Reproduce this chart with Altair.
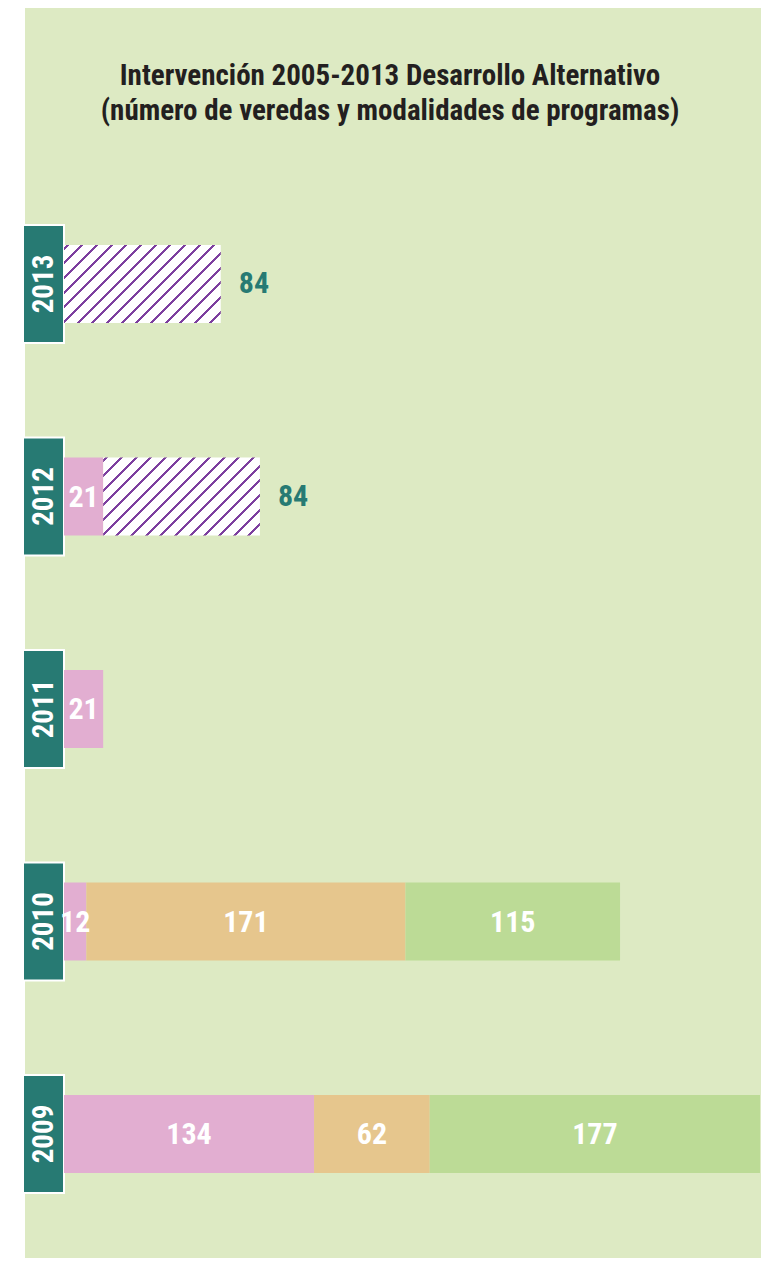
import altair as alt
import pandas as pd

# ---------------- data ----------------
years = ["2013", "2012", "2011", "2010", "2009"]
programs = ["Programa 1", "Programa 2", "Programa 3", "Programa 4"]
prog_1 = [0, 21, 21, 12, 134]     # pink
prog_2 = [0, 0, 0, 171, 62]       # tan
prog_3 = [0, 0, 0, 115, 177]      # green
prog_4 = [84, 84, 0, 0, 0]        # hatched
title_lines = ["Intervención 2005-2013 Desarrollo Alternativo",
               "(número de veredas y modalidades de programas)"]

# ---------------- styling ----------------
BG = "#ddeac3"
TEAL = "#277a73"
PURPLE = "#7d3f9f"
colors = ["#e2aed1", "#e6c68d", "#bcdb96"]
FONT = "Liberation Sans Narrow, Arial Narrow, Roboto Condensed, Roboto, sans-serif"

rows = []
for k, (name, vals) in enumerate(zip(programs, [prog_1, prog_2, prog_3, prog_4])):
    for y, v in zip(years, vals):
        if v > 0:
            rows.append({"year": y, "prog": name, "value": v, "order": k})
df = pd.DataFrame(rows)

VW, VH = 736, 1250
xmax = 373
x_lo, x_hi = 39, 735
xscale = alt.Scale(domain=[0, xmax], range=[x_lo, x_hi], nice=False, zero=True)
step = 212.5
first_c, last_c = 276, 1126
yscale = alt.Scale(domain=years, range=[first_c - step / 2, last_c + step / 2],
                   paddingInner=0, paddingOuter=0)
Y = alt.Y("year:N", scale=yscale, axis=None, sort=years)

# diagonal hatch as a hard-stop linear gradient (white / purple stripes)
W = 84 * (x_hi - x_lo) / xmax
H = 78.0
L = W + H
period = L / 16
sw = 3.0
stops = [alt.GradientStop(offset=0, color="white")]
pos = 2.0
while pos + sw < L:
    a, b = pos / L, (pos + sw) / L
    stops += [alt.GradientStop(offset=a, color="white"),
              alt.GradientStop(offset=a, color=PURPLE),
              alt.GradientStop(offset=b, color=PURPLE),
              alt.GradientStop(offset=b, color="white")]
    pos += period
stops.append(alt.GradientStop(offset=1, color="white"))
den = W * W + H * H
hatch = alt.Gradient(gradient="linear", stops=stops,
                     x1=0, y1=0, x2=W * L / den, y2=H * L / den)

base = alt.Chart(df).transform_stack(
    stack="value", groupby=["year"], as_=["x0", "x1"],
    sort=[alt.SortField("order", order="ascending")]
).transform_calculate(mid="(datum.x0 + datum.x1) / 2")

boxes = alt.Chart(pd.DataFrame({"year": years})).mark_bar(
    size=118, fill=TEAL, stroke="white", strokeWidth=2
).encode(x=alt.value(-2), x2=alt.value(39), y=Y)

box_text = alt.Chart(pd.DataFrame({"year": years})).mark_text(
    angle=270, color="white", font=FONT, fontWeight="bold", fontSize=29,
    align="center", baseline="middle"
).encode(x=alt.value(19), y=Y, text="year:N")

solid = base.transform_filter(alt.datum.prog != programs[3]).mark_bar(size=78).encode(
    x=alt.X("x0:Q", scale=xscale, axis=None), x2="x1:Q", y=Y,
    color=alt.Color("prog:N", scale=alt.Scale(domain=programs[:3], range=colors), legend=None),
)

hatched = base.transform_filter(alt.datum.prog == programs[3]).mark_bar(
    size=78, fill=hatch
).encode(x=alt.X("x0:Q", scale=xscale, axis=None), x2="x1:Q", y=Y)

in_labels = base.transform_filter(alt.datum.prog != programs[3]).mark_text(
    color="white", font=FONT, fontWeight="bold", fontSize=30,
    align="center", baseline="middle", dy=1
).encode(x=alt.X("mid:Q", scale=xscale, axis=None), y=Y, text="value:Q")

out_labels = base.transform_filter(alt.datum.prog == programs[3]).mark_text(
    color=TEAL, font=FONT, fontWeight="bold", fontSize=30,
    align="left", baseline="middle", dx=18, dy=0
).encode(x=alt.X("x1:Q", scale=xscale, axis=None), y=Y, text="value:Q")

chart = alt.layer(boxes, solid, hatched, in_labels, out_labels, box_text).properties(
    width=VW, height=VH,
    title=alt.TitleParams(text=title_lines, font=FONT, fontSize=29, fontWeight="bold",
                          color="#231f20", anchor="middle", offset=-118, lineHeight=35,
                          dx=-3),
    autosize="none",
    padding={"left": 17, "top": 0, "right": 0, "bottom": 0},
    background="white",
).configure_view(fill=BG, stroke=None)

chart.save("out.html", embed_options={"renderer": "svg", "actions": False})
